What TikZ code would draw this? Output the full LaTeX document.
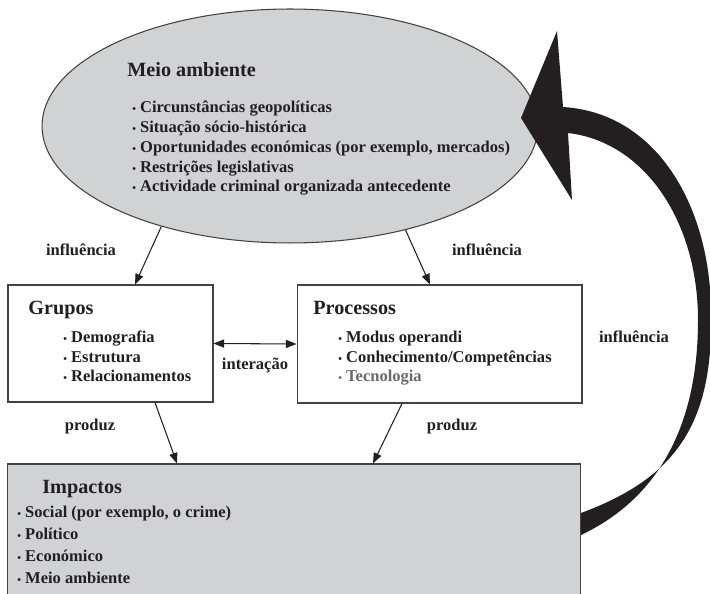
\documentclass[tikz,border=0pt]{standalone}
\usepackage{fontspec}
\setmainfont{Liberation Serif}
\usepackage{xcolor}
\usepackage{tikz}
\usetikzlibrary{shapes.geometric,arrows.meta,positioning,calc}
\definecolor{envgray}{RGB}{209,210,212}
\definecolor{inkblack}{RGB}{35,31,32}
\definecolor{techgray}{RGB}{105,105,105}
\newcommand{\bul}{{\fontsize{6}{6}\selectfont\textbullet}\ }

\begin{document}
\begin{tikzpicture}[
    x=0.02cm, y=-0.02cm,
    box/.style={rectangle, draw=inkblack!85, line width=0.6pt, inner sep=0pt},
    title/.style={anchor=base west, inner sep=0pt, font=\fontsize{11.5}{13}\selectfont\bfseries, text=inkblack},
    items/.style={anchor=base west, inner sep=0pt, align=left, font=\fontsize{9.4}{11.34}\selectfont\bfseries, text=inkblack},
    lbl/.style={inner sep=0pt, font=\fontsize{9.4}{11}\selectfont\bfseries, text=inkblack},
    arrow/.style={-{Triangle[length=6pt,width=4.6pt]}, line width=0.6pt, draw=inkblack}
]
\useasboundingbox (0,0) rectangle (710,594);
\clip (0,0) rectangle (710,594);

% Environment ellipse (list nodes sit on the baseline of their last line)
\node[ellipse, draw=inkblack!85, line width=0.6pt, fill=envgray, minimum width=9.92cm, minimum height=4.68cm, inner sep=0pt] (env) at (290,126) {};
\node[title] (envtitle) at (127,77) {Meio ambiente};
\node[items] (envlist) at (132,192) {\bul Circunstâncias geopolíticas\\\bul Situação sócio-histórica\\\bul Oportunidades económicas (por exemplo, mercados)\\\bul Restrições legislativas\\\bul Actividade criminal organizada antecedente};

% Groups and processes
\node[box, minimum width=4.1cm, minimum height=2.34cm] (grupos) at (110.5,343.5) {};
\node[title] (grupostitle) at (28,315) {Grupos};
\node[items] (gruposlist) at (63,382) {\bul Demografia\\\bul Estrutura\\\bul Relacionamentos};

\node[box, minimum width=5.7cm, minimum height=2.36cm] (processos) at (439.5,344) {};
\node[title] (processostitle) at (313,315) {Processos};
\node[items] (processoslist) at (338,382) {\bul Modus operandi\\\bul Conhecimento/Competências\\\textcolor{techgray}{\bul Tecnologia}};

% Impacts box - runs past the bottom edge
\node[box, fill=envgray, minimum width=11.48cm, minimum height=2.72cm] (impactos) at (294,532) {};
\node[title] (impactostitle) at (42,493) {Impactos};
\node[items, font=\fontsize{9.4}{12.47}\selectfont\bfseries] (impactoslist) at (17,583) {\bul Social (por exemplo, o crime)\\\bul Político\\\bul Económico\\\bul Meio ambiente};

% Thin connectors
\draw[arrow] (env.218) -- ($(grupos.north)+(24.5,0)$);
\draw[arrow] (env.318) -- ($(processos.north)+(-9.5,0)$);
\draw[arrow, {Triangle[length=6pt,width=4.6pt]}-{Triangle[length=6pt,width=4.6pt]}] (grupos.east) -- (processos.west);
\draw[arrow] ($(grupos.south)+(44.5,0)$) -- ($(impactos.north)+(-117,0)$);
\draw[arrow] ($(processos.south)+(-37.5,0)$) -- ($(impactos.north)+(79,0)$);

% Connector labels
\node[lbl] (inflleft) at (81,250) {influência};
\node[lbl] (inflright) at (487,250) {influência};
\node[lbl] (interacao) at (255,365) {interação};
\node[lbl] (produzleft) at (90,427) {produz};
\node[lbl] (produzright) at (452,427) {produz};
\node[lbl] (inflback) at (634,337) {influência};

% Big feedback arrow from impacts back to the environment
\fill[inkblack] (521,118) -- (557,31) -- (563,107)
    .. controls (660,113) and (713,212) .. (711,320)
    .. controls (712,430) and (670,480) .. (581,513)
    -- (581,535)
    .. controls (655,500) and (698,430) .. (698,320)
    .. controls (698,222) and (645,142) .. (568,133)
    -- (572,200) -- cycle;

\end{tikzpicture}
\end{document}
